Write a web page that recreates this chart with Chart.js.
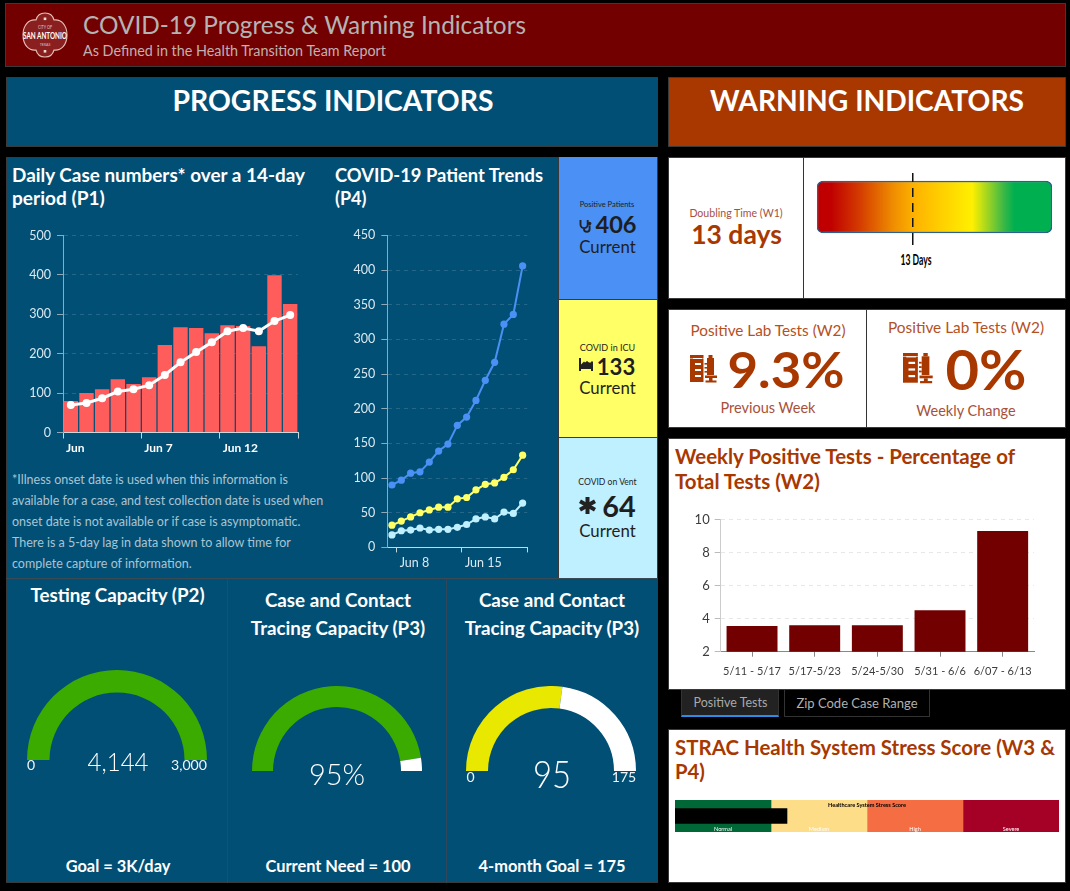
<!DOCTYPE html>
<html><head><meta charset="utf-8">
<script src="https://cdn.jsdelivr.net/npm/chart.js@4"></script>
<style>
html,body{margin:0;padding:0;background:#000;width:1070px;height:891px;overflow:hidden;font-family:Lato,"Open Sans",sans-serif}
.box{position:absolute;box-sizing:border-box}
.t{position:absolute;white-space:nowrap;line-height:1}
canvas{position:absolute;display:block}
svg{position:absolute;overflow:visible}
</style></head><body>
<div id="root"></div>
<script>
/* ---- data ---- */
const caseCounts=[80,100,110,135,123,140,222,267,265,252,272,270,219,399,326];
const caseAverage=[70,75,87,104,110,120,146,178,204,229,257,265,257,283,298];
const caseTicks=[0,5,10,15];
const caseTickLabels=['Jun','Jun 7','Jun 12',''];
const positivePatients=[90,97,107,109,123,139,149,176,188,212,241,267,322,336,406];
const icuPatients=[32,38,44,50,54,58,58,70,72,83,91,93,101,112,133];
const ventPatients=[18,24,25,28,25,26,26,29,33,41,44,41,51,49,64];
const trendTicks=[1,8,15];
const trendTickLabels=['Jun 8','Jun 15',''];
const weekLabels=['5/11 - 5/17','5/17-5/23','5/24-5/30','5/31 - 6/6','6/07 - 6/13'];
const weekPositive=[3.55,3.6,3.6,4.5,9.3];
const testingValue=4144, testingMax=3000;
const tracingValue=95, tracingNeed=100;
const goalValue=95, goalMax=175;
const doublingDays=[13];
const stressBands=['Normal','Medium','High','Severe'];
const stressEdges=[0,1,2,3,4];
const stressColors=['#006837','#fedd88','#f46d43','#a50026'];
const stressScore=1.17;

const BLUE='#024f75',RUST='#a83800',MAROON='#720000',LINE='#3a3a3a',SKY='#4a90f5',YEL='#ffff66',CYAN='#bff0ff',AX='#dbe9f0';
const root=document.getElementById('root');
function box(l,t,r,b,bg,extra){const d=document.createElement('div');d.className='box';
 d.style.cssText=`left:${l}px;top:${t}px;width:${r-l}px;height:${b-t}px;background:${bg};`+(extra||'');root.appendChild(d);return d;}
function txt(s,x,y,size,color,o){o=o||{};const d=document.createElement('div');d.className='t';d.textContent=s;
 const tx=o.left?'0':'-50%';
 d.style.cssText=`left:${x}px;top:${y}px;font-size:${size}px;color:${color};font-weight:${o.w||400};transform-origin:${o.left?'left':'center'} center;`+(o.css||'');
 root.appendChild(d);
 let sx=o.sx||1; if(o.wd){sx=o.wd/d.getBoundingClientRect().width;}
 d.style.transform=`translate(${tx},-50%) scaleX(${sx})`;
 return d;}
function svg(l,t,w,h,inner){const n=document.createElementNS('http://www.w3.org/2000/svg','svg');
 n.setAttribute('width',w);n.setAttribute('height',h);n.setAttribute('viewBox',`0 0 ${w} ${h}`);n.style.left=l+'px';n.style.top=t+'px';n.innerHTML=inner;root.appendChild(n);}
function canvas(l,t,w,h){const c=document.createElement('canvas');c.width=w;c.height=h;c.style.cssText=`left:${l}px;top:${t}px;width:${w}px;height:${h}px;`;root.appendChild(c);return c;}

/* ---- panels ---- */
box(5,3,1066,67,MAROON,`border:1px solid ${LINE};`);
box(6,77,658,147,BLUE,`border:1px solid ${LINE};`);
box(668,77,1066,147,RUST,`border:1px solid ${LINE};`);
box(6,157,658,883,BLUE,`border:1px solid ${LINE};`);
box(558,157,658,300,SKY,`border:1px solid ${LINE};border-top:none;`);
box(558,299,658,438,YEL,`border:1px solid ${LINE};`);
box(558,437,658,579,CYAN,`border:1px solid ${LINE};`);
box(6,578,658,579,'#3a4a55');
box(227,579,228,883,'#30485a');
box(446,579,447,883,'#30485a');
box(668,157,1066,299,'#fff',`border:1px solid ${LINE};`);
box(803,157,804,299,'#333');
box(668,309,1066,428,'#fff',`border:1px solid ${LINE};`);
box(866,309,867,428,'#333');
box(668,438,1066,690,'#fff',`border:1px solid ${LINE};`);
box(668,729,1066,883,'#fff',`border:1px solid ${LINE};`);
box(681,690,779,717,'#222',`border-left:1px solid #333;border-right:1px solid #333;border-bottom:2px solid #2b8ee6;`);
box(784,690,930,717,'#000',`border:1px solid #333;border-top:none;`);

/* ---- logo ---- */
svg(21,12,48,45,`<path d="M24 1c5 0 8 3 9 7 7-1 13 5 13 15s-6 16-13 15c-1 4-4 7-9 7s-8-3-9-7C8 39 2 33 2 23S8 7 15 8c1-4 4-7 9-7z" fill="#8a1f1f" stroke="#e8c0b8" stroke-width="1.1"/>
<text x="24" y="27" font-family="Lato" font-size="9" font-weight="700" text-anchor="middle" fill="#fff" textLength="44" lengthAdjust="spacingAndGlyphs">SAN ANTONIO</text>
<text x="24" y="16.5" font-family="Lato" font-size="5" text-anchor="middle" fill="#e8c8c0" textLength="14" lengthAdjust="spacingAndGlyphs">CITY OF</text>
<text x="24" y="34" font-family="Lato" font-size="3.5" text-anchor="middle" fill="#e8c8c0">TEXAS</text>
<rect x="22.7" y="5.5" width="2.6" height="2.6" fill="#e8e0d0"/><rect x="22.7" y="38" width="2.6" height="2.6" fill="#e8e0d0"/>`);

/* ---- texts ---- */
txt('COVID-19 Progress & Warning Indicators',83,24.5,25.5,'#b4b4b4',{left:1,wd:443});
txt('As Defined in the Health Transition Team Report',83,51,14.6,'#c0b0b0',{left:1,wd:303});
txt('PROGRESS INDICATORS',332.5,98.5,29,'#fff',{w:700,wd:321});
txt('WARNING INDICATORS',867,98.5,29,'#fff',{w:700,wd:314});
txt('Daily Case numbers* over a 14-day',12,174.5,18,'#fff',{left:1,w:700,wd:293});
txt('period (P1)',12,198,18,'#fff',{left:1,w:700,sx:1.06});
txt('COVID-19 Patient Trends',335,175,18,'#fff',{left:1,w:700,wd:208});
txt('(P4)',335,198,18,'#fff',{left:1,w:700});
['*Illness onset date is used when this information is','available for a case, and test collection date is used when','onset date is not available or if case is asymptomatic.','There is a 5-day lag in data shown to allow time for','complete capture of information.'].forEach((s,i)=>
 txt(s,12,480+i*21,12.5,'#a9c4d2',{left:1}));
const DK='#1e1e1e';
txt('Positive Patients',607,205,7.5,DK);txt('406',615.5,225,23.5,DK,{w:700,wd:41});txt('Current',607.5,247,16.8,DK);
txt('COVID in ICU',607.5,347,9,DK);txt('133',616,366,23,DK,{w:700,wd:38.5});txt('Current',607.5,387.5,16.8,DK);
txt('COVID on Vent',607.5,482,8.6,DK);txt('64',618.5,505,29,DK,{w:700,wd:33.5});txt('Current',607.5,530.5,16.8,DK);
svg(579,219,13,13,`<path d="M1.5 1v4.5a3.6 3.6 0 0 0 7.2 0V1M5 9v1a2.8 2.8 0 0 0 5.6 0V6.5" fill="none" stroke="#222" stroke-width="1.9"/><circle cx="10.6" cy="4.5" r="1.8" fill="#222"/>`);
svg(579,358,14,13,`<path d="M0 0h2v6.5l3-3 1 1 2-1.5 2 1.5h2v-1h2V13h-2v-2H2v2H0z" fill="#222"/>`);
svg(579,497,17,17,`<g stroke="#222" stroke-width="4"><path d="M8.5 0v17M1 4.2l15 8.6M16 4.2l-15 8.6"/></g>`);
function tubes(x,y,k){svg(x,y,28,28,`<g transform="scale(${k})"><g fill="${RUST}"><rect x="0" y="0" width="13.5" height="3"/><rect x="0" y="3.5" width="13.5" height="23.5"/>
<rect x="18.5" y="0" width="4" height="3"/><rect x="17" y="3" width="7" height="17"/><rect x="14.5" y="8" width="2.5" height="1.6"/><rect x="14.5" y="12" width="2.5" height="1.6"/><rect x="14.5" y="16" width="2.5" height="1.6"/>
<rect x="15" y="20.5" width="12" height="2.5"/><rect x="19" y="23" width="3.5" height="3"/><rect x="15.5" y="25.5" width="11" height="2"/></g>
<g fill="#fff"><rect x="3" y="3" width="9" height="1"/><rect x="5" y="8" width="6" height="2"/><rect x="5" y="14" width="6" height="2"/><rect x="5" y="20" width="6" height="2"/></g></g>`);}
tubes(690,354.5,1);tubes(903,353,1.1);

const HW={w:700};
txt('Testing Capacity (P2)',117.5,594.5,18.8,'#fff',HW);
txt('Case and Contact',338,600,18.8,'#fff',HW);txt('Tracing Capacity (P3)',338,628,18.8,'#fff',HW);
txt('Case and Contact',552,600,18.8,'#fff',HW);txt('Tracing Capacity (P3)',552,628,18.8,'#fff',HW);
txt('Goal = 3K/day',118,866,16.4,'#fff',HW);
txt('Current Need = 100',338,866,16.4,'#fff',HW);
txt('4-month Goal = 175',552,866,16.4,'#fff',HW);

txt('Doubling Time (W1)',736,213,10.6,'#a8503a');
txt('13 days',736.5,234,26.5,RUST,{w:700});
txt('Positive Lab Tests (W2)',768,330,15,'#b5501f',{wd:155});
txt('Positive Lab Tests (W2)',966,327,15,'#b5501f',{wd:156});
txt('9.3%',786,369,50,RUST,{w:700,wd:117});
txt('0%',986,368.5,55,RUST,{w:700,wd:81});
txt('Previous Week',768,408,14.5,'#a8503a');
txt('Weekly Change',966,411,14.5,'#a8503a');
txt('Weekly Positive Tests - Percentage of',675,456,20.3,RUST,{left:1,w:700,wd:340});
txt('Total Tests (W2)',675,481,20.3,RUST,{left:1,w:700,sx:1.01});
txt('STRAC Health System Stress Score (W3 &',675,747,20.3,RUST,{left:1,w:700,wd:380});
txt('P4)',675,771,20.3,RUST,{left:1,w:700});
txt('Positive Tests',730.5,703,12.5,'#a9a9a9');
txt('Zip Code Case Range',857,703,13,'#b0b0b0');

/* ---- chart helpers ---- */
Chart.defaults.animation=false;
Chart.defaults.font.family='Lato,"Open Sans",sans-serif';
Chart.defaults.plugins.legend.display=false;
Chart.defaults.plugins.tooltip.enabled=false;
function fixed(size){return s=>{if(s.isHorizontal())s.height=size;else s.width=size;};}
function plotBase(l,t,r,b){
 const x0=Math.floor(l-40),y0=Math.floor(t-20),x1=Math.ceil(r+20),y1=Math.ceil(b+32);
 return {c:canvas(x0,y0,x1-x0,y1-y0),layout:{padding:{top:t-y0,right:x1-r,left:0,bottom:0}},yw:l-x0,xh:y1-b};}

/* ---- P1 daily cases ---- */
(function(){const p=plotBase(63,235.5,298,432.5);
new Chart(p.c,{data:{datasets:[
 {type:'line',order:0,data:caseAverage.map((v,i)=>({x:i+.5,y:v})),borderColor:'#fff',backgroundColor:'#fff',borderWidth:3,pointRadius:4,pointBorderWidth:0,tension:0},
 {type:'bar',order:1,data:caseCounts.map((v,i)=>({x:i+.5,y:v})),backgroundColor:'#ff5c5c',barPercentage:.92,categoryPercentage:1}
]},options:{responsive:false,layout:p.layout,scales:{
 x:{type:'linear',offset:false,min:0,max:15,afterBuildTicks:a=>{a.ticks=caseTicks.map(v=>({value:v}));},afterFit:fixed(p.xh),
  grid:{offset:false,drawOnChartArea:false,tickLength:6,tickColor:'#c8d6de'},border:{color:'#c8d6de'},
  ticks:{autoSkip:false,maxRotation:0,align:'start',labelOffset:3,padding:2,color:'#fff',font:{size:12,weight:'bold'},callback:(v,i)=>caseTickLabels[i]}},
 y:{min:0,max:500,afterFit:fixed(p.yw),grid:{color:'rgba(255,255,255,.14)',tickLength:6,tickColor:'#8fa9b8'},border:{color:'#8fa9b8',dash:[4,4]},
  ticks:{stepSize:100,padding:6,color:AX,font:{size:12.5}}}
}}});})();

/* ---- P4 patient trends ---- */
(function(){const p=plotBase(387.3,235.4,527.3,547.4);
const ser=(a,col)=>({type:'line',data:a.map((v,i)=>({x:i+.5,y:v})),borderColor:col,backgroundColor:col,borderWidth:2,pointRadius:3.6,pointBorderWidth:0,tension:0});
new Chart(p.c,{type:'line',data:{datasets:[ser(positivePatients,SKY),ser(icuPatients,YEL),ser(ventPatients,CYAN)]},options:{responsive:false,layout:p.layout,scales:{
 x:{type:'linear',min:0,max:15,afterBuildTicks:a=>{a.ticks=trendTicks.map(v=>({value:v}));},afterFit:fixed(p.xh),
  grid:{drawOnChartArea:false,tickLength:5,tickColor:'#c8d6de'},border:{color:'#c8d6de'},
  ticks:{autoSkip:false,maxRotation:0,align:'start',labelOffset:3,padding:3,color:AX,font:{size:12.5},callback:(v,i)=>trendTickLabels[i]}},
 y:{min:0,max:450,afterFit:fixed(p.yw),grid:{color:'rgba(255,255,255,.14)',tickLength:6,tickColor:'#8fa9b8'},border:{color:'#8fa9b8',dash:[4,4]},
  ticks:{stepSize:50,padding:6,color:AX,font:{size:12.5}}}
}}});})();

/* ---- W2 weekly positive ---- */
(function(){const p=plotBase(720.7,519.4,1034,651.7);
new Chart(p.c,{type:'bar',data:{labels:weekLabels,datasets:[{data:weekPositive,backgroundColor:MAROON,barPercentage:.813,categoryPercentage:1}]},options:{responsive:false,layout:p.layout,scales:{
 x:{afterFit:fixed(p.xh),grid:{offset:false,drawOnChartArea:false,tickLength:5,tickColor:'#888'},border:{color:'#888'},
  ticks:{autoSkip:false,maxRotation:0,padding:8,color:'#3c3c3c',font:{size:11}}},
 y:{min:2,max:10,afterFit:fixed(p.yw),grid:{color:'#e8e8e8',tickLength:6,tickColor:'#bbb'},border:{color:'#ccc',dash:[4,4]},
  ticks:{stepSize:2,padding:5,color:'#3c3c3c',font:{size:13}}}
}}});})();

/* ---- gauges ---- */
function gauge(cx,cy,R,r,val,max,col){const c=canvas(Math.round(cx-R),Math.round(cy-R),2*R,R);const a=Math.min(val,max);
 new Chart(c,{type:'doughnut',data:{labels:['Value','Rest'],datasets:[{data:[a,max-a],backgroundColor:[col,'#fff'],borderWidth:0}]},
  options:{animation:false,responsive:false,rotation:-90,circumference:180,cutout:(r/R*100)+'%',layout:{padding:0}}});}
gauge(117,759.5,90,67.5,testingValue,testingMax,'#3cab00');
gauge(337,771,85,64,tracingValue,tracingNeed,'#3cab00');
gauge(551.3,771,85,63,goalValue,goalMax,'#e8e800');
txt('4,144',117.5,761,26,'#fff',{w:300,wd:61});
txt('0',31,765,14,'#f0f5f8');txt('3,000',189,765,14,'#f0f5f8',{wd:36});
txt('95%',337,773,30,'#fff',{w:300,wd:56});
txt('95',552,773,37,'#fff',{w:300,wd:38});
txt('0',470.5,777,14,'#f0f5f8');txt('175',624,777,14,'#f0f5f8');

/* ---- W1 doubling time scale ---- */
(function(){const c=canvas(817,173,235,72);
new Chart(c,{type:'bar',data:{labels:['Doubling time'],datasets:[{data:[32],barThickness:52,borderWidth:1.5,borderColor:'#2f5f8f',borderRadius:6,borderSkipped:false,
  backgroundColor:ctx=>{const a=ctx.chart.chartArea;if(!a)return '#ffc000';const g=ctx.chart.ctx.createLinearGradient(a.left,0,a.right,0);
   g.addColorStop(.06,'#c00000');g.addColorStop(.18,'#d43b00');g.addColorStop(.33,'#f09000');g.addColorStop(.42,'#ffb400');g.addColorStop(.66,'#fff000');g.addColorStop(.8,'#33b648');g.addColorStop(.84,'#00b050');g.addColorStop(1,'#00b050');return g;}}]},
 options:{indexAxis:'y',responsive:false,layout:{padding:0},scales:{
  y:{display:false},
  x:{min:0,max:32,afterBuildTicks:a=>{a.ticks=doublingDays.map(v=>({value:v}));},afterFit:fixed(4),
   grid:{z:1,color:'#111',lineWidth:1.5,tickLength:4,tickColor:'#111'},border:{display:false,dash:[9,6]},
   ticks:{display:false}}
 }}});})();
txt(doublingDays[0]+' Days',915.7,260,14.5,'#000',{w:700,wd:31});

/* ---- W3 stress score ---- */
(function(){const c=canvas(675,800,384,32);
const ds=stressBands.map((n,i)=>({label:n,order:2,data:[[stressEdges[i],stressEdges[i+1]]],backgroundColor:stressColors[i],grouped:false,barPercentage:1,categoryPercentage:1}));
ds.push({label:'Score',order:1,data:[stressScore],backgroundColor:'#000',grouped:false,barPercentage:.49,categoryPercentage:1});
new Chart(c,{type:'bar',data:{labels:['Healthcare System Stress Score'],datasets:ds},
 options:{indexAxis:'y',responsive:false,layout:{padding:0},scales:{x:{display:false,min:0,max:4},y:{display:false}}}});})();
txt('Healthcare System Stress Score',867,805,5.6,'#000',{w:700,css:'filter:blur(.25px);'});
stressBands.forEach((s,i)=>txt(s,723+i*96,828.5,5.6,'#fff',{css:'filter:blur(.25px);'}));
</script>
</body></html>
